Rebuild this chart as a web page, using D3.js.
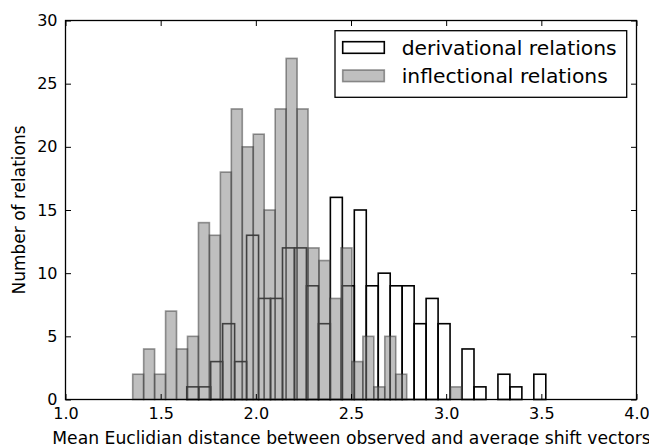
<!DOCTYPE html>
<html>
<head>
<meta charset="utf-8">
<script src="https://cdn.jsdelivr.net/npm/d3@7"></script>
<style>
  html, body { margin: 0; padding: 0; background: #fff; }
  svg { display: block; font-family: "DejaVu Sans", sans-serif; }
</style>
</head>
<body>
<svg id="chart" width="649" height="445"></svg>
<script>
// ---- data ----
const xTicks = [1.0, 1.5, 2.0, 2.5, 3.0, 3.5, 4.0];
const yTicks = [0, 5, 10, 15, 20, 25, 30];

// derivational relations: 30 bins between these limits
const derivRange = [1.637, 3.5235];
const derivCounts = [1, 1, 3, 6, 3, 13, 8, 8, 12, 12, 9, 6, 16, 9, 15, 9, 10, 9, 9, 6, 8, 6, 0, 4, 1, 0, 2, 1, 0, 2];

// inflectional relations: 30 bins between these limits
const inflRange = [1.353, 3.0806];
const inflCounts = [2, 4, 2, 7, 4, 5, 14, 13, 18, 23, 20, 21, 15, 23, 27, 23, 12, 11, 8, 12, 3, 5, 1, 5, 2, 0, 0, 0, 0, 1];

const legendLabels = ["derivational relations", "inflectional relations"];
const xLabel = "Mean Euclidian distance between observed and average shift vectors";
const yLabel = "Number of relations";

// ---- layout ----
const L = 65.5, R = 636.5, T = 20.5, B = 399.5;
const svg = d3.select("#chart");
const x = d3.scaleLinear().domain([1, 4]).range([L, R]);
const y = d3.scaleLinear().domain([0, 30]).range([B, T]);

function bins(range, counts) {
  const n = counts.length, w = (range[1] - range[0]) / n;
  return counts.map((c, i) => ({x0: range[0] + i * w, x1: range[0] + (i + 1) * w, c}));
}

// derivational bars (outlined)
svg.append("g").selectAll("rect")
  .data(bins(derivRange, derivCounts).filter(d => d.c > 0))
  .join("rect")
  .attr("x", d => x(d.x0)).attr("width", d => x(d.x1) - x(d.x0))
  .attr("y", d => y(d.c)).attr("height", d => y(0) - y(d.c))
  .attr("fill", "none").attr("stroke", "#000").attr("stroke-width", 1.6);

// inflectional bars (translucent grey)
svg.append("g").selectAll("rect")
  .data(bins(inflRange, inflCounts).filter(d => d.c > 0))
  .join("rect")
  .attr("x", d => x(d.x0)).attr("width", d => x(d.x1) - x(d.x0))
  .attr("y", d => y(d.c)).attr("height", d => y(0) - y(d.c))
  .attr("fill", "#808080").attr("fill-opacity", 0.5)
  .attr("stroke", "#333").attr("stroke-opacity", 0.5).attr("stroke-width", 1.6);

// frame
svg.append("rect").attr("x", L).attr("y", T).attr("width", R - L).attr("height", B - T)
  .attr("fill", "none").attr("stroke", "#000").attr("stroke-width", 1.3);

// axes (ticks inside, on all sides)
const tl = 5.5;
function style(g) {
  g.select(".domain").remove();
  g.selectAll(".tick line").attr("stroke", "#000").attr("stroke-width", 1);
  g.selectAll(".tick text").attr("fill", "#000").style("font-size", "16px")
    .style("font-family", "DejaVu Sans");
}
svg.append("g").attr("transform", `translate(0,${B})`)
  .call(d3.axisBottom(x).tickValues(xTicks).tickFormat(d3.format(".1f")).tickSize(-tl).tickPadding(8))
  .call(style);
svg.append("g").attr("transform", `translate(0,${T})`)
  .call(d3.axisTop(x).tickValues(xTicks).tickFormat("").tickSize(-tl))
  .call(style);
svg.append("g").attr("transform", `translate(${L},0)`)
  .call(d3.axisLeft(y).tickValues(yTicks).tickFormat(d3.format("d")).tickSize(-tl).tickPadding(8))
  .call(style);
svg.append("g").attr("transform", `translate(${R},0)`)
  .call(d3.axisRight(y).tickValues(yTicks).tickFormat("").tickSize(-tl))
  .call(style);

// axis labels
svg.append("text").attr("x", (L + R) / 2 + 0.5).attr("y", 444)
  .attr("text-anchor", "middle").style("font-size", "17.2px").text(xLabel);
svg.append("text").attr("transform", `translate(25,${(T + B) / 2}) rotate(-90)`)
  .attr("text-anchor", "middle").style("font-size", "17px").text(yLabel);

// legend
const lg = svg.append("g");
lg.append("rect").attr("x", 335).attr("y", 30.7).attr("width", 291.7).attr("height", 66.6)
  .attr("fill", "#fff").attr("stroke", "#000").attr("stroke-width", 1.3);
lg.append("rect").attr("x", 342.7).attr("y", 41.7).attr("width", 41.6).attr("height", 11.6)
  .attr("fill", "#fff").attr("stroke", "#000").attr("stroke-width", 1.6);
lg.append("rect").attr("x", 342.7).attr("y", 70).attr("width", 41.6).attr("height", 11.6)
  .attr("fill", "#808080").attr("fill-opacity", 0.5)
  .attr("stroke", "#333").attr("stroke-opacity", 0.5).attr("stroke-width", 1.6);
lg.selectAll("text.leg").data(legendLabels).join("text").attr("class", "leg")
  .attr("x", 401.7).attr("y", (d, i) => 54.8 + i * 28.4)
  .style("font-size", "20.3px").text(d => d);
</script>
</body>
</html>
